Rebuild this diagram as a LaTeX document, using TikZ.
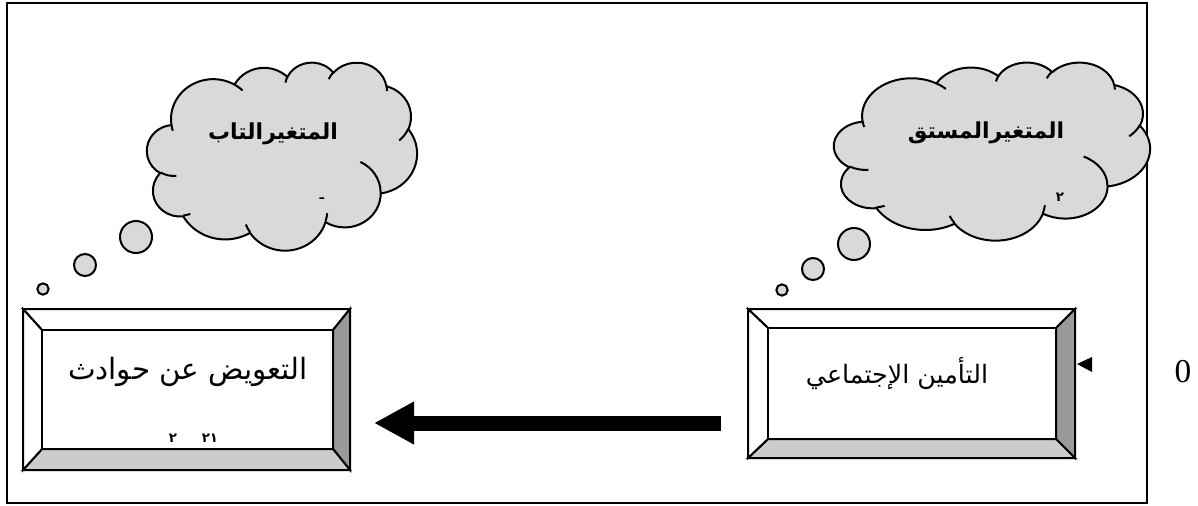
\documentclass[tikz,border=0pt]{standalone}
\usepackage{fontspec}
\setmainfont{Liberation Serif}
\newfontfamily\arabicfont[Script=Arabic]{DejaVu Sans}
\usetikzlibrary{arrows.meta}
\TeXXeTstate=1
\definecolor{cloudgray}{HTML}{D9D9D9}
\definecolor{bevdark}{HTML}{999999}
\definecolor{bevlight}{HTML}{CCCCCC}
\tikzset{
  oarc/.style n args={4}{insert path={arc[x radius=#1, y radius=#2,
     start angle={atan2(#1*sin(#3),#2*cos(#3))},
     delta angle={mod(atan2(#1*sin(#3+#4),#2*cos(#3+#4))-atan2(#1*sin(#3),#2*cos(#3))+720,360)}]}},
  cloudline/.style={draw,line width=1.5pt,line join=round},
}
\newcommand\wordcloud{%
  \filldraw[cloudline,fill=cloudgray] (9.028,33.264)
    [oarc={15.632}{21.273}{-190.4875}{123.7805}]
    [oarc={12.345}{16.822}{-144.1024}{89.9452}]
    [oarc={10.104}{13.762}{-145.8079}{99.7230}]
    [oarc={11.243}{15.266}{-130.9861}{117.2417}]
    [oarc={12.345}{16.836}{-78.7089}{109.0269}]
    [oarc={15.683}{21.343}{-46.2673}{130.2690}]
    [oarc={13.391}{18.211}{0.6250}{114.0333}]
    [oarc={15.630}{21.331}{22.4516}{115.1726}]
    [oarc={17.870}{24.405}{66.2426}{75.7110}]
    [oarc={10.093}{13.699}{-274.9421}{146.7356}]
    [oarc={10.058}{13.762}{-246.8285}{152.5189}] -- cycle;
  \draw[cloudline] (10.863,60.595) [oarc={10.058}{13.762}{86.7420}{26.4295}];
  \draw[cloudline] (16.037,80.785) [oarc={10.093}{13.699}{73.6105}{11.4475}];
  \draw[cloudline] (38.144,90.486) [oarc={15.630}{21.331}{137.6242}{14.0811}];
  \draw[cloudline] (66.729,80.442) [oarc={15.630}{21.331}{6.4533}{15.9984}];
  \draw[cloudline] (79.002,53.134) [oarc={13.391}{18.211}{-70.2924}{70.9174}];
  \draw[cloudline] (96.755,35.542) [oarc={12.345}{16.836}{30.3180}{27.7515}];
  \draw[cloudline] (88.713,12.560) [oarc={11.243}{15.266}{-13.7443}{14.8589}];
  \draw[cloudline] (67.310,9.148) [oarc={11.243}{15.266}{-149.1815}{18.1954}];
  \draw[cloudline] (51.252,10.926) [oarc={10.104}{13.762}{-163.4943}{17.6864}];
  \draw[cloudline] (32.407,12.019) [oarc={15.632}{21.273}{-66.7070}{12.3194}];
  \draw[cloudline] (9.553,36.549) [oarc={15.632}{21.273}{157.6544}{11.8582}];
}
\begin{document}
\begin{tikzpicture}[x=0.75pt,y=-0.75pt,
  frame/.style={draw,line width=1.1pt},
  bubble/.style={circle,draw,line width=1.5pt,fill=cloudgray,inner sep=0pt},
  bev/.style={draw,line width=1.5pt,line join=miter},
  innerbox/.style={draw,line width=1.5pt,fill=white,inner sep=0pt},
  arlabel/.style={font=\arabicfont\fontsize{19}{22}\selectfont},
  cloudlabel/.style={font=\arabicfont\bfseries\fontsize{16.5}{19}\selectfont},
  tiny/.style={font=\arabicfont\bfseries\fontsize{10}{11}\selectfont},
  bigarrow/.style={line width=11.25pt,-{Triangle[length=30pt,width=30pt]}}
]
\useasboundingbox (0,0) rectangle (1198,506);
\node[frame,minimum width=855pt,minimum height=375pt,inner sep=0pt] (frame) at (577,253) {};

% clouds
\begin{scope}[shift={(147,62)},x=2.025pt,y=-1.41pt]
  \wordcloud
  \coordinate (cL) at (50,50);
\end{scope}
\begin{scope}[shift={(834,62)},x=2.37pt,y=-1.335pt]
  \wordcloud
  \coordinate (cR) at (50,50);
\end{scope}
\node[cloudlabel] (tL) at (273,134) {\beginR المتغيرالتاب\endR};
\node[cloudlabel] (tR) at (986,133) {\beginR المتغيرالمستق\endR};
\node[tiny] (mL) at (322,199) {ـ};
\node[tiny] (mR) at (1060,197) {٢};

% bubbles
\node[bubble,minimum size=24pt] (bL1) at (136,237) {};
\node[bubble,minimum size=16.5pt] (bL2) at (85,265) {};
\node[bubble,minimum size=8.5pt] (bL3) at (43,289) {};
\node[bubble,minimum size=24pt] (bR1) at (854,244) {};
\node[bubble,minimum size=16.5pt] (bR2) at (813,269) {};
\node[bubble,minimum size=8.5pt] (bR3) at (782,290) {};

% left beveled box
\coordinate (Lo1) at (23,309); \coordinate (Lo2) at (350,470);
\coordinate (Li1) at (42,330); \coordinate (Li2) at (333,449);
\draw[bev,fill=white] (Lo1) -- (Lo1 -| Lo2) -- (Li1 -| Li2) -- (Li1) -- cycle;
\draw[bev,fill=bevdark] (Lo1 -| Lo2) -- (Lo2) -- (Li2) -- (Li1 -| Li2) -- cycle;
\draw[bev,fill=bevlight] (Lo2) -- (Lo2 -| Lo1) -- (Li2 -| Li1) -- (Li2) -- cycle;
\draw[bev,fill=white] (Lo1) -- (Li1) -- (Li2 -| Li1) -- (Lo2 -| Lo1) -- cycle;
\node[innerbox,minimum width=218.25pt,minimum height=89.25pt] (boxL) at (187.5,389.5) {};
\node[arlabel,font=\arabicfont\fontsize{22}{25}\selectfont] (textL) at (188,372) {\beginR التعويض عن حوادث\endR};
\node[tiny] (nL1) at (173,438) {٢};
\node[tiny] (nL2) at (210,438) {٢١};

% right beveled box
\coordinate (Ro1) at (748,309); \coordinate (Ro2) at (1075,458);
\coordinate (Ri1) at (768,328); \coordinate (Ri2) at (1056,439);
\draw[bev,fill=white] (Ro1) -- (Ro1 -| Ro2) -- (Ri1 -| Ri2) -- (Ri1) -- cycle;
\draw[bev,fill=bevdark] (Ro1 -| Ro2) -- (Ro2) -- (Ri2) -- (Ri1 -| Ri2) -- cycle;
\draw[bev,fill=bevlight] (Ro2) -- (Ro2 -| Ro1) -- (Ri2 -| Ri1) -- (Ri2) -- cycle;
\draw[bev,fill=white] (Ro1) -- (Ri1) -- (Ri2 -| Ri1) -- (Ro2 -| Ro1) -- cycle;
\node[innerbox,minimum width=216pt,minimum height=83.25pt] (boxR) at (912,383.5) {};
\node[arlabel] (textR) at (897,374) {\beginR التأمين الإجتماعي\endR};

% arrow
\coordinate (atail) at (721,423);
\coordinate (ahead) at (374,423);
\draw[bigarrow] (atail) -- (ahead);

% marker and zero
\fill (1077,364) -- (1092,357) -- (1092,372) -- cycle;
\node[font=\fontsize{25}{28}\selectfont] (zero) at (1183,372) {0};
\end{tikzpicture}
\end{document}
